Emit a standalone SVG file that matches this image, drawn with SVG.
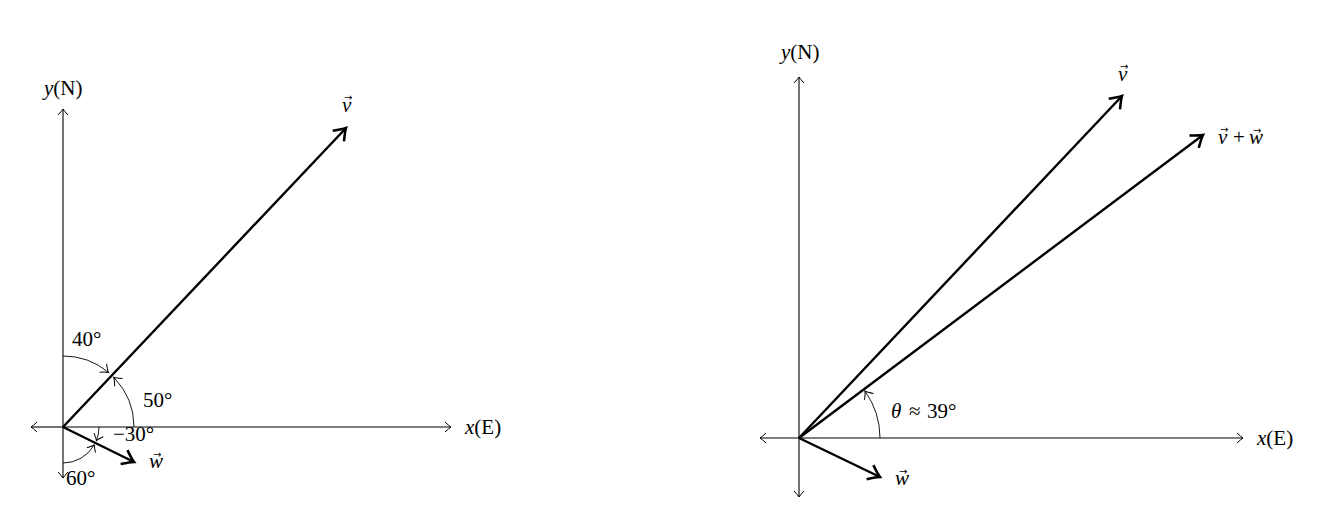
<svg xmlns="http://www.w3.org/2000/svg" width="1323" height="521" viewBox="0 0 1323 521">
<style>
text{font-family:"Liberation Serif","Times New Roman",serif;font-size:21px;fill:#000}
.i{font-style:italic}
.vh{font-family:"DejaVu Sans",sans-serif;font-size:10px;font-style:normal}
.ax{stroke:#000;stroke-width:1.1;fill:none}
.vec{stroke:#000;stroke-width:2.4;fill:none}
.arc{stroke:#000;stroke-width:0.9;fill:none}
</style>
<defs>
<marker id="ta" markerUnits="userSpaceOnUse" markerWidth="14" markerHeight="14" viewBox="-8 -7 10 14" refX="0" refY="0" orient="auto">
<path d="M-6,-5 Q-2,-1.2 0,0 Q-2,1.2 -6,5" fill="none" stroke="#000" stroke-width="1"/>
</marker>
<marker id="aa" markerUnits="userSpaceOnUse" markerWidth="16" markerHeight="16" viewBox="-9 -8 11 16" refX="0" refY="0" orient="auto">
<path d="M-7,-5.5 Q-2.5,-1.2 0,0 Q-2.5,1.2 -7,5.5" fill="none" stroke="#000" stroke-width="1"/>
</marker>
<marker id="va" markerUnits="userSpaceOnUse" markerWidth="20" markerHeight="20" viewBox="-12 -9 14 18" refX="0" refY="0" orient="auto">
<path d="M-10,-7 Q-3,-1.5 0,0 Q-3,1.5 -10,7" fill="none" stroke="#000" stroke-width="2.3"/>
</marker>
</defs>

<g id="connectors">
<g id="left-axes">
<line class="ax" x1="63" y1="427" x2="451" y2="427" marker-end="url(#ta)"/>
<line class="ax" x1="63" y1="427" x2="31" y2="427" marker-end="url(#ta)"/>
<line class="ax" x1="63" y1="427" x2="63" y2="109" marker-end="url(#ta)"/>
<line class="ax" x1="63" y1="427" x2="63" y2="478" marker-end="url(#ta)"/>
</g>
<g id="left-vectors">
<line class="vec" x1="63" y1="427" x2="346" y2="128" marker-end="url(#va)"/>
<line class="vec" x1="63" y1="427" x2="134" y2="462" marker-end="url(#va)"/>
</g>
<g id="left-arcs">
<path class="arc" d="M63,356 A71,71 0 0 1 108.5,372.4" marker-end="url(#aa)"/>
<path class="arc" d="M134,427 A71,71 0 0 0 113.7,377.3" marker-end="url(#aa)"/>
<path class="arc" d="M99,427 A36,36 0 0 1 96.4,440.5" marker-end="url(#ta)"/>
<path class="arc" d="M63,463 A36,36 0 0 0 94.2,445" marker-end="url(#ta)"/>
</g>
<g id="right-axes">
<line class="ax" x1="799" y1="438" x2="1243" y2="438" marker-end="url(#ta)"/>
<line class="ax" x1="799" y1="438" x2="760" y2="438" marker-end="url(#ta)"/>
<line class="ax" x1="799" y1="438" x2="799" y2="77" marker-end="url(#ta)"/>
<line class="ax" x1="799" y1="438" x2="799" y2="497" marker-end="url(#ta)"/>
</g>
<g id="right-vectors">
<line class="vec" x1="799" y1="438" x2="1122" y2="96" marker-end="url(#va)"/>
<line class="vec" x1="799" y1="438" x2="1203" y2="135" marker-end="url(#va)"/>
<line class="vec" x1="799" y1="438" x2="880" y2="477" marker-end="url(#va)"/>
</g>
<g id="right-arcs">
<path class="arc" d="M880,438 A81,81 0 0 0 864.9,391" marker-end="url(#aa)"/>
</g>
</g>

<g id="left-labels">
<text id="l-y" x="44" y="95"><tspan class="i">y</tspan>(N)</text>
<text id="l-x" x="465" y="434"><tspan class="i">x</tspan>(E)</text>
<text id="l-v" x="342" y="112"><tspan class="i">v</tspan><tspan class="vh" x="344" dy="-11">→</tspan></text>
<text id="l-w" x="149" y="468"><tspan class="i">w</tspan><tspan class="vh" x="153" dy="-10">→</tspan></text>
<text id="l-40" x="72" y="346">40°</text>
<text id="l-50" x="143" y="407">50°</text>
<text id="l-30" x="113" y="441">−30°</text>
<text id="l-60" x="66" y="485">60°</text>
</g>

<g id="right-labels">
<text id="r-y" x="781" y="59"><tspan class="i">y</tspan>(N)</text>
<text id="r-x" x="1257" y="445"><tspan class="i">x</tspan>(E)</text>
<text id="r-v" x="1118" y="81"><tspan class="i">v</tspan><tspan class="vh" x="1120" dy="-11">→</tspan></text>
<text id="r-vw" x="1218" y="144"><tspan class="i">v</tspan><tspan class="vh" x="1220" dy="-11">→</tspan><tspan x="1233" dy="11">+</tspan><tspan class="i" x="1249">w</tspan><tspan class="vh" x="1253" dy="-10">→</tspan></text>
<text id="r-w" x="895" y="485"><tspan class="i">w</tspan><tspan class="vh" x="899" dy="-10">→</tspan></text>
<text id="r-theta" x="891" y="418"><tspan class="i">θ</tspan><tspan x="909">≈</tspan><tspan x="927">39°</tspan></text>
</g>
</svg>
